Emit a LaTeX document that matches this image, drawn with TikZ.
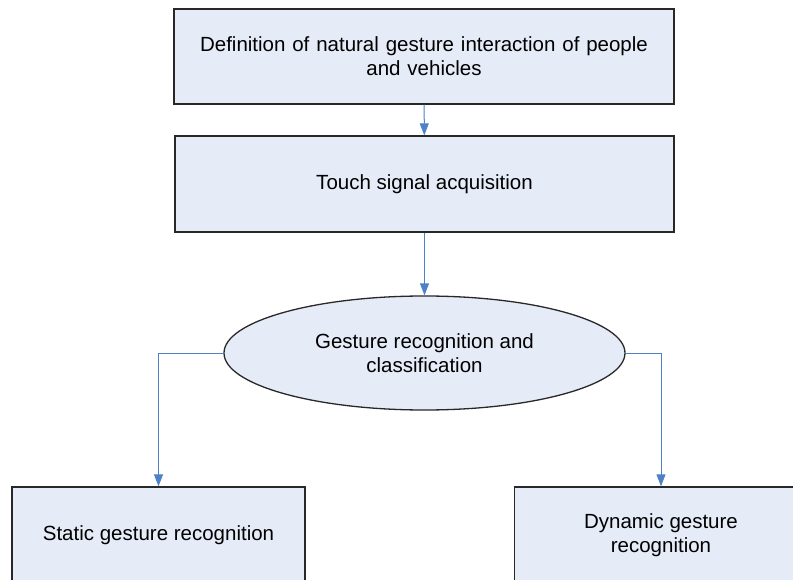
\documentclass[tikz,border=0pt]{standalone}
\usepackage{fontspec}
\setmainfont{Liberation Sans}
\usetikzlibrary{arrows.meta,shapes.geometric}

\definecolor{boxfill}{RGB}{230,236,247}
\definecolor{linkblue}{RGB}{79,129,199}
\definecolor{boxline}{RGB}{40,40,40}

\tikzset{
  stepbox/.style={draw=boxline,line width=1.3pt,fill=boxfill,rectangle,
    align=center,inner sep=0pt,font=\fontsize{20.5}{24}\selectfont},
  stepoval/.style={stepbox,ellipse},
  link/.style={draw=linkblue,line width=1pt,-{Triangle[length=12pt,width=9pt]}}
}

\begin{document}
\begin{tikzpicture}[x=1pt,y=-1pt]
  \useasboundingbox (0,0) rectangle (793,580);
  % boxes
  \node[stepbox,minimum width=500pt,minimum height=95pt,text width=490pt] (def) at (424,56.5)
    {Definition of natural gesture interaction of people\\and vehicles};
  \node[stepbox,minimum width=499pt,minimum height=96pt] (touch) at (424.5,184)
    {Touch signal acquisition};
  \node[stepoval,minimum width=401pt,minimum height=114pt] (cls) at (424.5,353)
    {Gesture recognition and\\classification};
  \node[stepbox,minimum width=293pt,minimum height=96pt] (static) at (158.5,535)
    {Static gesture recognition};
  \node[stepbox,minimum width=293pt,minimum height=96pt] (dynamic) at (661,535)
    {Dynamic gesture\\recognition};
  % links
  \draw[link] (def) -- (touch);
  \draw[link] (touch) -- (cls);
  \draw[link] (cls.west) -| (static.north);
  \draw[link] (cls.east) -| (dynamic.north);
\end{tikzpicture}
\end{document}
